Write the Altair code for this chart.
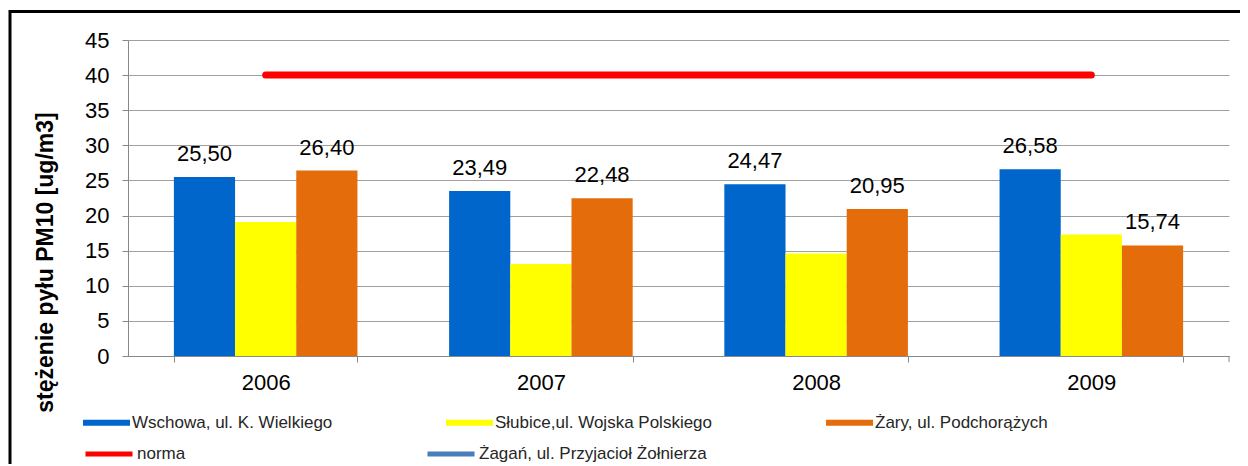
import altair as alt
import pandas as pd

# ---- data ----
years = ["2006", "2007", "2008", "2009"]
series_names = ["Wschowa, ul. K. Wielkiego", "Słubice,ul. Wojska Polskiego", "Żary, ul. Podchorążych"]
wschowa = [25.50, 23.49, 24.47, 26.58]
slubice = [19.1, 13.1, 14.6, 17.3]
zary = [26.40, 22.48, 20.95, 15.74]
line_names = ["norma", "Żagań, ul. Przyjacioł Żołnierza"]
norma = [40, 40, 40, 40]
labelled_series = [series_names[0], series_names[2]]
y_ticks = [0, 5, 10, 15, 20, 25, 30, 35, 40, 45]
y_title = "stężenie pyłu PM10 [ug/m3]"

# ---- styles ----
bar_colors = ["#0066CC", "#FFFF00", "#E46C0A"]
line_colors = ["#FF0000", "#4A7EBB"]
FONT = "Liberation Sans"
GRID = "#A0A0A0"

rows = []
for s, vals in zip(series_names, [wschowa, slubice, zary]):
    for yr, v in zip(years, vals):
        rows.append({"year": yr, "series": s, "value": v})
df = pd.DataFrame(rows)
df_norm = pd.DataFrame({"year": years, "value": norma, "series": line_names[0]})

x_axis = alt.Axis(
    title=None, labelAngle=0, labelFontSize=22, labelFont=FONT, labelColor="#000",
    labelPadding=10, tickBand="extent", tickSize=6, tickColor="#888",
    domainColor="#888", grid=False,
)
y_axis = alt.Axis(
    values=y_ticks, title=y_title, titleFont=FONT, titleFontSize=23,
    titleFontWeight="bold", titleColor="#000", titleAngle=270,
    titleAlign="center", titleBaseline="middle", titleX=-83, titleY=222,
    labelFontSize=22, labelFont=FONT, labelColor="#000", labelPadding=13,
    labelOverlap=False, tickSize=6, tickColor="#888", domainColor="#888",
    grid=True, gridColor=GRID, gridWidth=1,
)
x_scale = alt.Scale(domain=years, paddingInner=0.333, paddingOuter=0.1667)
y_scale = alt.Scale(domain=[0, 45], nice=False)


def x_enc():
    return alt.X("year:N", sort=years, scale=x_scale, axis=x_axis)


def y_enc():
    return alt.Y("value:Q", scale=y_scale, axis=y_axis)


xoff = alt.XOffset("series:N", scale=alt.Scale(domain=series_names, paddingInner=0, paddingOuter=0))

bars = alt.Chart(df).mark_bar().encode(
    x=x_enc(),
    xOffset=xoff,
    y=y_enc(),
    fill=alt.Fill(
        "series:N",
        scale=alt.Scale(domain=series_names, range=bar_colors),
        legend=alt.Legend(
            title=None, orient="none", legendX=-45, legendY=359, direction="horizontal",
            columns=3, columnPadding=113, padding=0, labelFont=FONT, labelFontSize=17,
            labelColor="#262626", labelOffset=2, labelLimit=500,
            symbolType="M-1,-0.13H1V0.13H-1Z",
            symbolSize=2209, symbolStrokeWidth=0, symbolOpacity=1,
        ),
    ),
)

labels = alt.Chart(df).transform_filter(
    alt.FieldOneOfPredicate(field="series", oneOf=labelled_series)
).transform_calculate(
    label="replace(format(datum.value, '.2f'), '.', ',')"
).mark_text(dy=-16, baseline="alphabetic", fontSize=22, font=FONT, color="#000").encode(
    x=x_enc(),
    xOffset=xoff,
    y=y_enc(),
    text="label:N",
)

norm_line = alt.Chart(df_norm).mark_line(strokeWidth=7, strokeCap="round").encode(
    x=x_enc(),
    y=y_enc(),
    stroke=alt.Stroke(
        "series:N",
        scale=alt.Scale(domain=line_names, range=line_colors),
        legend=alt.Legend(
            title=None, orient="none", legendX=-45, legendY=388, direction="horizontal",
            columns=2, columnPadding=231, padding=0, labelFont=FONT, labelFontSize=17,
            labelColor="#262626", labelOffset=2, labelLimit=500, symbolType="stroke",
            symbolSize=2209, symbolStrokeWidth=5,
        ),
    ),
)

dummy = alt.Data(values=[{}])
right_tick = alt.Chart(dummy).mark_rule(color="#888", strokeWidth=1).encode(
    x=alt.value(1101), y=alt.value(316), y2=alt.value(322)
)
border_top = alt.Chart(dummy).mark_rule(color="#000", strokeWidth=3).encode(
    x=alt.value(-118), x2=alt.value(1112), y=alt.value(-28.5)
)
border_left = alt.Chart(dummy).mark_rule(color="#000", strokeWidth=3).encode(
    x=alt.value(-118), y=alt.value(-30), y2=alt.value(430)
)

chart = alt.layer(bars, labels, norm_line, right_tick, border_top, border_left).resolve_scale(
    fill="independent", stroke="independent"
).properties(
    width=1101,
    height=316,
    autosize=alt.AutoSizeParams(type="none"),
    padding={"left": 120, "top": 32, "right": 11, "bottom": 108},
    background="#FFFFFF",
).configure_view(stroke=None)

chart.save("out.html", embed_options={"renderer": "svg", "actions": False})
